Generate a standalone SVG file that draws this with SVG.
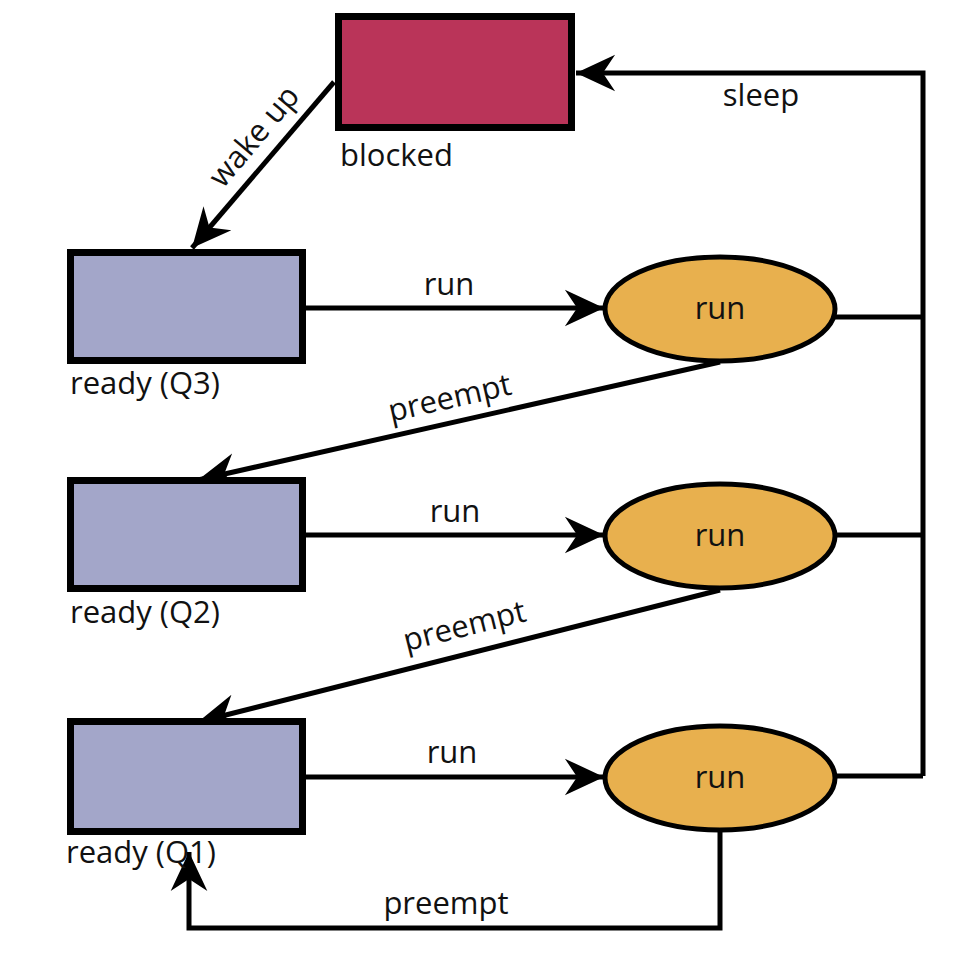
<svg xmlns="http://www.w3.org/2000/svg" width="974" height="974" viewBox="0 0 974 974">
<style>
.box{stroke:#000;stroke-width:7}
.ready{fill:#a3a6c9}
.blk{fill:#ba3459}
.run{fill:#e8b04e;stroke:#000;stroke-width:5}
.ln{fill:none;stroke:#000;stroke-width:5}
text{font-family:"Open Sans","Liberation Sans",sans-serif;font-size:31px;fill:#111}
.c{text-anchor:middle}
</style>
<defs>
<marker id="ah" markerUnits="userSpaceOnUse" markerWidth="44" markerHeight="44" viewBox="-34 -17 36 34" refX="0" refY="0" orient="auto">
<path d="M0,0 L-32,-15 L-22,0 L-32,15 Z" fill="#000"/>
</marker>
</defs>
<g id="connectors">
<path class="ln" d="M923,776 V73 H576" marker-end="url(#ah)"/>
<path class="ln" d="M835,317 H923"/>
<path class="ln" d="M835,535 H923"/>
<path class="ln" d="M835,776 H923"/>
<path class="ln" d="M334,82 L192,248" marker-end="url(#ah)"/>
<path class="ln" d="M306,308 H604" marker-end="url(#ah)"/>
<path class="ln" d="M306,535 H604" marker-end="url(#ah)"/>
<path class="ln" d="M306,777 H604" marker-end="url(#ah)"/>
<path class="ln" d="M720,362 L198,480" marker-end="url(#ah)"/>
<path class="ln" d="M720,590 L198,722" marker-end="url(#ah)"/>
<path class="ln" d="M720,831 V928 H189 V852" marker-end="url(#ah)"/>
<text x="761" y="106" class="c">sleep</text>
<text class="c" transform="translate(262,143) rotate(-50)">wake up</text>
<text x="449" y="295" class="c">run</text>
<text x="455" y="522" class="c">run</text>
<text x="452" y="763" class="c">run</text>
<text class="c" transform="translate(452,408) rotate(-12.8)">preempt</text>
<text class="c" transform="translate(467,636) rotate(-14)">preempt</text>
<text x="446" y="914" class="c">preempt</text>
</g>
<g id="blocked">
<rect class="box blk" x="338.5" y="16.5" width="233" height="111"/>
<text x="340" y="166">blocked</text>
</g>
<g id="readyQ3">
<rect class="box ready" x="70.5" y="252.5" width="232" height="108"/>
<text x="70" y="394">ready (Q3)</text>
</g>
<g id="readyQ2">
<rect class="box ready" x="70.5" y="480.5" width="232" height="108"/>
<text x="70" y="623">ready (Q2)</text>
</g>
<g id="readyQ1">
<rect class="box ready" x="70.5" y="721.5" width="232" height="110"/>
<text x="66" y="863">ready (Q1)</text>
</g>
<g id="run3">
<ellipse class="run" cx="720" cy="309" rx="115" ry="52"/>
<text x="720" y="319" class="c">run</text>
</g>
<g id="run2">
<ellipse class="run" cx="720" cy="536" rx="115" ry="52"/>
<text x="720" y="546" class="c">run</text>
</g>
<g id="run1">
<ellipse class="run" cx="720" cy="778" rx="115" ry="52"/>
<text x="720" y="788" class="c">run</text>
</g>
</svg>
